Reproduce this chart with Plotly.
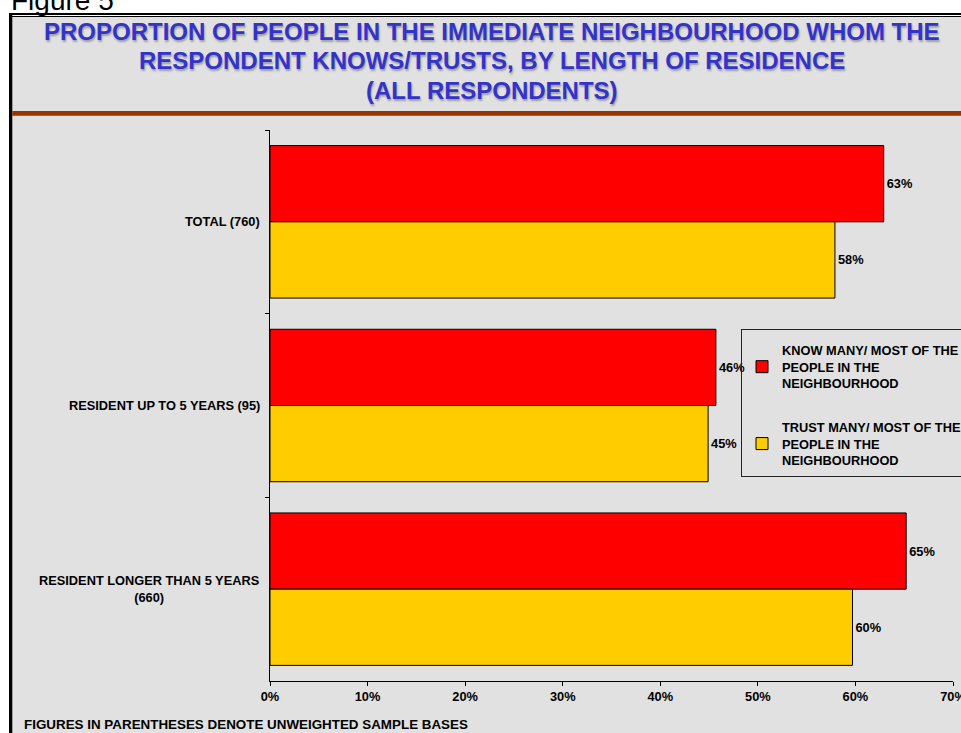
import plotly.graph_objects as go

categories = ["TOTAL (760)", "RESIDENT UP TO 5 YEARS (95)", "RESIDENT LONGER THAN 5 YEARS<br>(660)"]
know_values = [62.9, 45.7, 65.2]
trust_values = [57.9, 44.9, 59.7]
series_names = ["KNOW MANY/ MOST OF THE<br>PEOPLE IN THE<br>NEIGHBOURHOOD",
                "TRUST MANY/ MOST OF THE<br>PEOPLE IN THE<br>NEIGHBOURHOOD"]
x_ticks = [0, 10, 20, 30, 40, 50, 60, 70]
title_lines = ["PROPORTION OF PEOPLE IN THE IMMEDIATE NEIGHBOURHOOD WHOM THE",
               "RESPONDENT KNOWS/TRUSTS, BY LENGTH OF RESIDENCE",
               "(ALL RESPONDENTS)"]

W, H = 961, 733
L, R, T, B = 270, 8, 130, 52
PW, PH = W - L - R, H - T - B


def px(x):
    return (x - L) / PW


def py(y):
    return (H - B - y) / PH


FONT = "Liberation Sans, Arial, sans-serif"
SMALL = 12.8
boldS = dict(family=FONT, size=SMALL, color="black", weight="bold")

fig = go.Figure()
fig.add_trace(go.Bar(
    y=categories, x=know_values, orientation="h", name=series_names[0],
    marker=dict(color="#FF0000", line=dict(color="black", width=1)),
    text=[f"{round(v)}%" for v in know_values], textposition="outside",
    textfont=boldS, cliponaxis=False, legendgroup="a"))
fig.add_trace(go.Bar(
    y=categories, x=trust_values, orientation="h", name=series_names[1],
    marker=dict(color="#FFCC00", line=dict(color="black", width=1)),
    text=[f"{round(v)}%" for v in trust_values], textposition="outside",
    textfont=boldS, cliponaxis=False, legendgroup="b"))


def rect(x0, x1, y0, y1, color):
    return dict(type="rect", xref="paper", yref="paper",
                x0=px(x0), x1=px(x1), y0=py(y1), y1=py(y0),
                fillcolor=color, line=dict(width=0), layer="above")


shapes = [
    rect(-5, W + 5, -5, 13, "white"),
    rect(-5, 9, -5, H + 5, "white"),
    rect(9, W + 5, 15, 16, "white"),
    rect(9, W + 5, 13, 15, "black"),
    rect(9, W + 5, 16, 17, "black"),
    rect(9, 12.3, 13, H + 5, "black"),
    rect(12.3, W + 5, 111, 115.7, "#993300"),
]

annotations = []
annotations.append(dict(text="Figure 5", x=px(9), y=py(0.5), xref="paper", yref="paper",
                        xanchor="left", yanchor="middle", showarrow=False,
                        font=dict(family=FONT, size=28, color="black")))
for line, yc in zip(title_lines, [32, 61, 91]):
    annotations.append(dict(text=line, x=px(492), y=py(yc), xref="paper", yref="paper",
                            xanchor="center", yanchor="middle", showarrow=False,
                            font=dict(family=FONT, size=24, color="#3333CC", weight="bold",
                                      shadow="1px 2px 2px rgba(0,0,0,0.3)")))
for c in categories:
    annotations.append(dict(text=c, x=0, xshift=-8, y=c, xref="paper", yref="y",
                            xanchor="right", yanchor="middle", align="center",
                            showarrow=False, font=boldS))
annotations.append(dict(text="FIGURES IN PARENTHESES DENOTE UNWEIGHTED SAMPLE BASES",
                        x=px(22), y=py(724), xref="paper", yref="paper",
                        xanchor="left", yanchor="middle", showarrow=False,
                        font=dict(boldS, size=13.4)))

fig.update_layout(
    width=W, height=H,
    margin=dict(l=L, r=R, t=T, b=B, autoexpand=False),
    paper_bgcolor="#E1E1E1", plot_bgcolor="rgba(0,0,0,0)",
    barmode="group", bargap=0.17, bargroupgap=0,
    font=dict(family=FONT, size=SMALL, color="black"),
    showlegend=True,
    legend=dict(x=px(741), y=py(329), xanchor="left", yanchor="top",
                bgcolor="rgba(0,0,0,0)", bordercolor="#222222", borderwidth=1,
                font=boldS, traceorder="grouped", tracegroupgap=24,
                itemwidth=30,
                title=dict(text=" ", font=dict(size=4))),
    shapes=shapes, annotations=annotations,
    xaxis=dict(range=[0, 70], tickvals=x_ticks, ticktext=[f"{v}%" for v in x_ticks],
               showline=True, linecolor="black", linewidth=1, ticks="outside",
               ticklen=4, tickcolor="black", showgrid=False, zeroline=False,
               tickfont=boldS, ticklabeloverflow="allow"),
    yaxis=dict(autorange="reversed", showline=True, linecolor="black", linewidth=1,
               ticks="outside", ticklen=4, tickcolor="black", tickson="boundaries",
               showticklabels=False, showgrid=False),
)

fig.write_html("out.html", config={"displayModeBar": False},
               post_script="document.body.style.margin='0';document.body.style.overflow='hidden';")
